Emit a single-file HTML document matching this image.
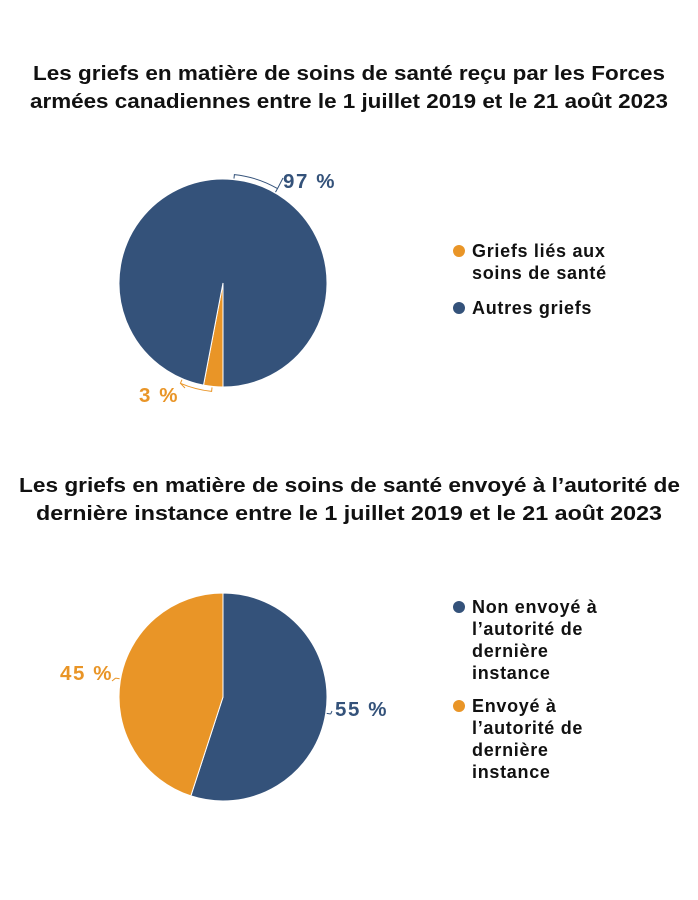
<!DOCTYPE html>
<html><head><meta charset="utf-8"><style>
body{margin:0;background:#fff;}
svg{display:block;font-family:"Liberation Sans",sans-serif;}
</style></head><body>
<svg width="698" height="900" viewBox="0 0 698 900">
<g font-size="20" font-weight="bold" fill="#111">
<text x="33" y="80" textLength="632" lengthAdjust="spacingAndGlyphs">Les griefs en matière de soins de santé reçu par les Forces</text>
<text x="30" y="108" textLength="638" lengthAdjust="spacingAndGlyphs">armées canadiennes entre le 1 juillet 2019 et le 21 août 2023</text>
<text x="19" y="492" textLength="661" lengthAdjust="spacingAndGlyphs">Les griefs en matière de soins de santé envoyé à l’autorité de</text>
<text x="36" y="520" textLength="626" lengthAdjust="spacingAndGlyphs">dernière instance entre le 1 juillet 2019 et le 21 août 2023</text>
</g>
<g id="p1"></g><g id="p2"></g>
<g font-size="18" font-weight="bold" fill="#111" letter-spacing="0.7">
<circle cx="459" cy="251" r="6" fill="#e99527"/>
<text x="472" y="257">Griefs liés aux</text>
<text x="472" y="279">soins de santé</text>
<circle cx="459" cy="308" r="6" fill="#34527a"/>
<text x="472" y="314">Autres griefs</text>
<circle cx="459" cy="607" r="6" fill="#34527a"/>
<text x="472" y="613">Non envoyé à</text>
<text x="472" y="635">l’autorité de</text>
<text x="472" y="657">dernière</text>
<text x="472" y="679">instance</text>
<circle cx="459" cy="706" r="6" fill="#e99527"/>
<text x="472" y="712">Envoyé à</text>
<text x="472" y="734">l’autorité de</text>
<text x="472" y="756">dernière</text>
<text x="472" y="778">instance</text>
</g>
</svg>
<script>
const pie1Labels=["Griefs liés aux soins de santé","Autres griefs"];
const pie1Values=[3,97];
const pie2Labels=["Non envoyé","Envoyé"];
const pie2Values=[55,45];
const colors1=["#e99527","#34527a"], colors2=["#34527a","#e99527"];
const NS="http://www.w3.org/2000/svg";
function pt(cx,cy,r,a){const t=a*Math.PI/180;return [cx+r*Math.sin(t),cy-r*Math.cos(t)];}
function draw(g,vals,cols,start,cx,cy,r,labs){
  const tot=vals.reduce((a,b)=>a+b,0);let a=start;
  vals.forEach((v,i)=>{
    const sw=v/tot*360,p0=pt(cx,cy,r,a),p1=pt(cx,cy,r,a+sw);
    const p=document.createElementNS(NS,"path");
    p.setAttribute("d",`M${cx},${cy}L${p0[0]},${p0[1]}A${r},${r} 0 ${sw>180?1:0} 1 ${p1[0]},${p1[1]}Z`);
    p.setAttribute("fill",cols[i]);p.setAttribute("stroke","#fff");p.setAttribute("stroke-width","1");
    
    
    g.appendChild(p);
    const L=labs[i];
    const t=document.createElementNS(NS,"text");
    t.setAttribute("x",L.x);t.setAttribute("y",L.y);t.setAttribute("font-size","20.5");t.setAttribute("font-weight","bold");
    t.setAttribute("fill",cols[i]);t.setAttribute("letter-spacing","1.6");
    t.textContent=v+" %";
    
    
    g.appendChild(t);
    const q0=pt(cx,cy,r+1,L.a0),q1=pt(cx,cy,r+5,L.a0),q2=pt(cx,cy,r+5,L.a1),q3=pt(cx,cy,r+1,L.a1);
    const ln=document.createElementNS(NS,"path");
    ln.setAttribute("d",`M${q0[0]},${q0[1]}L${q1[0]},${q1[1]}A${r+5},${r+5} 0 0 ${L.a1>L.a0?1:0} ${q2[0]},${q2[1]}L${q3[0]},${q3[1]}M${q2[0]},${q2[1]}L${L.lx},${L.ly}`);
    ln.setAttribute("stroke",cols[i]);ln.setAttribute("fill","none");ln.setAttribute("stroke-width","1");
    
    
    g.appendChild(ln);
    a+=sw;
  });
}
draw(document.getElementById("p1"),pie1Values,colors1,180,223,283,104,
 [{x:139,y:402,a0:186,a1:203,lx:185,ly:388},{x:283,y:188,a0:6,a1:30,lx:283,ly:178}]);
draw(document.getElementById("p2"),pie2Values,colors2,0,223,697,104,
 [{x:335,y:716,a0:99,a1:99,lx:332,ly:711},{x:60,y:680,a0:280,a1:280,lx:112,ly:681}]);
</script>
</body></html>
